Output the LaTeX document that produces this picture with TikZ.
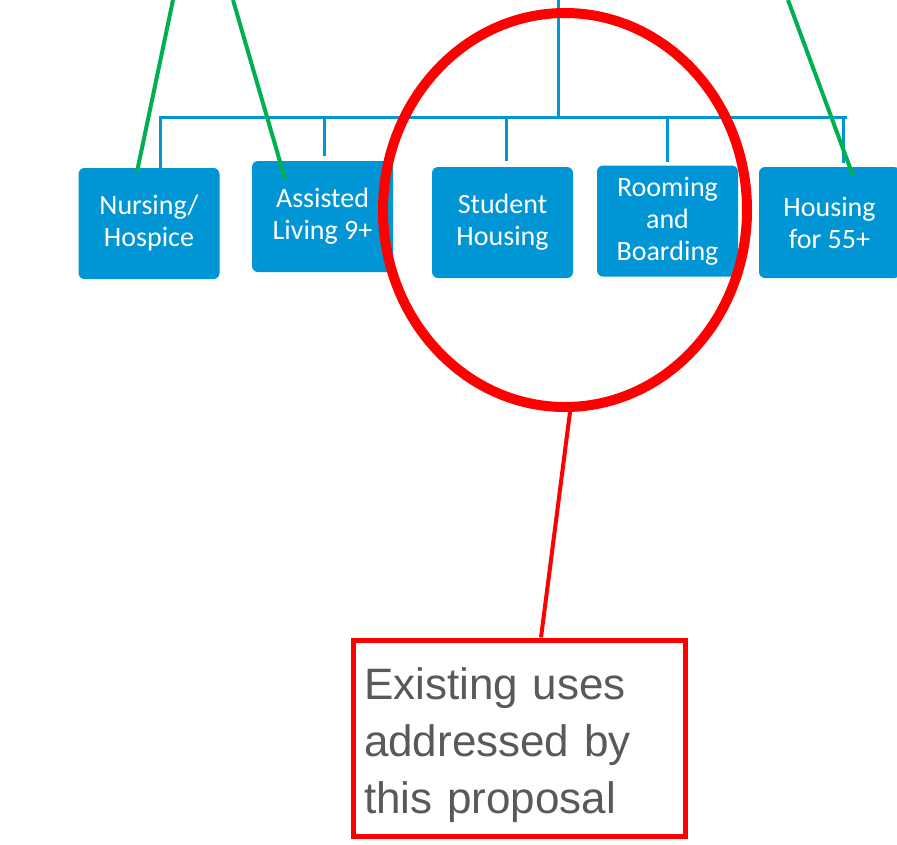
\documentclass[tikz,border=0pt]{standalone}
\usepackage{fontspec}
\setmainfont{Carlito}
\newfontfamily\notefont{Liberation Sans}
\usetikzlibrary{shapes.geometric}
\definecolor{treeblue}{RGB}{0,150,214}
\definecolor{linkgreen}{RGB}{0,176,80}
\definecolor{notegray}{RGB}{89,89,89}
\begin{document}
\begin{tikzpicture}[x=1pt,y=-1pt,line cap=rect,
	usebox/.style={fill=treeblue,rounded corners=6pt,text=white,align=center,minimum width=141pt,minimum height=111pt,font=\fontsize{28}{32}\selectfont},
	tree/.style={draw=treeblue,line width=3pt},
	link/.style={draw=linkgreen,line width=4pt,line cap=butt}]
	\useasboundingbox (0,0) rectangle (897,844);
	\coordinate (root) at (558,0);
	\coordinate (barL) at (160,117);
	\coordinate (barR) at (845,117);
	\coordinate (tap) at (0,120);
	\node[usebox] (nurs) at (149,223.5) {Nursing/\\Hospice};
	\node[usebox] (assist) at (322.5,216.5) {Assisted\\Living 9+};
	\node[usebox] (student) at (502.5,222.5) {Student\\Housing};
	\node[usebox] (room) at (667.5,221) {Rooming\\and\\Boarding};
	\node[usebox] (h55) at (829.5,222.5) {Housing\\for 55+};
	\draw[tree] (root) -- (root |- barL);
	\draw[tree] ([yshift=0.5pt]nurs.north -| barL) -- (barL) -- (barR);
	\foreach \n/\dx/\gap in {assist/1.5/6,student/3.5/7,room/-0.5/5,h55/13.5/5}
		\draw[tree] ([xshift=\dx pt,yshift=\gap pt]\n.north) -- ([xshift=\dx pt]\n.north |- tap);
	\coordinate (g1) at (173,0);
	\coordinate (g2) at (233,0);
	\coordinate (g3) at (788,0);
	\draw[link] (g1) -- ([xshift=-12pt,yshift=-4pt]nurs.north);
	\draw[link] (g2) -- ([xshift=-37.5pt,yshift=-18pt]assist.north);
	\draw[link] (g3) -- ([xshift=23.5pt,yshift=-9pt]h55.north);
	\node[ellipse,draw=red,line width=10pt,minimum width=364pt,minimum height=394pt] (ring) at (565,210) {};
	\node[draw=red,line width=5pt,minimum width=332pt,minimum height=196pt,text width=310pt,align=left,text=notegray,
		font=\notefont\fontsize{44}{57}\selectfont,text height=47pt] (note) at (519,738) {Existing uses\\addressed by\\this proposal};
	\draw[red,line width=4pt,line cap=butt] ([xshift=5pt]ring.south) -- ([xshift=22pt]note.north);
\end{tikzpicture}
\end{document}
